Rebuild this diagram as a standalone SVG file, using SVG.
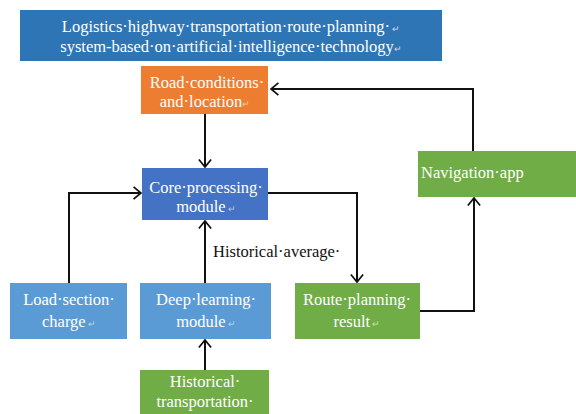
<svg xmlns="http://www.w3.org/2000/svg" width="576" height="414" viewBox="0 0 576 414">
<defs>
<marker id="ah" viewBox="0 0 10 16" refX="9.5" refY="8" markerWidth="9" markerHeight="14" markerUnits="userSpaceOnUse" orient="auto">
<path d="M1,1 L9.5,8 L1,15" fill="none" stroke="#111" stroke-width="2"/>
</marker>
</defs>
<rect width="576" height="414" fill="#fff"/>
<g id="connectors" fill="none" stroke="#111" stroke-width="2">
<path d="M205,114 V167" marker-end="url(#ah)"/>
<path d="M268,193 H357 V282" marker-end="url(#ah)"/>
<path d="M420,311 H474 V198" marker-end="url(#ah)"/>
<path d="M473,151 V89 H271" marker-end="url(#ah)"/>
<path d="M69,283 V193 H141" marker-end="url(#ah)"/>
<path d="M205,283 V221" marker-end="url(#ah)"/>
<path d="M205,370 V340" marker-end="url(#ah)"/>
</g>
<text font-family="Liberation Serif" font-size="16.5" x="213" y="257" fill="#111">Historical·average·</text>
<g id="title" fill="#fff" text-anchor="middle">
<rect x="20" y="10" width="422" height="51" fill="#2E75B6"/>
<text font-family="Liberation Serif" font-size="16.5" x="231" y="32">Logistics·highway·transportation·route·planning·<tspan fill="#cfd8e8" font-size="9"> ↵</tspan></text>
<text font-family="Liberation Serif" font-size="16.5" x="231" y="52">system-based·on·artificial·intelligence·technology<tspan fill="#cfd8e8" font-size="9">↵</tspan></text>
</g>
<g id="road" fill="#fff" text-anchor="middle">
<rect x="141" y="66" width="127" height="48" fill="#ED7D31"/>
<text font-family="Liberation Serif" font-size="16.5" x="207" y="88">Road·conditions·</text>
<text font-family="Liberation Serif" font-size="16.5" x="205" y="107">and·location<tspan fill="#f5c8a8" font-size="9">↵</tspan></text>
</g>
<g id="core" fill="#fff" text-anchor="middle">
<rect x="142" y="168" width="126" height="52" fill="#4472C4"/>
<text font-family="Liberation Serif" font-size="16.5" x="206" y="193">Core·processing·</text>
<text font-family="Liberation Serif" font-size="16.5" x="206" y="212">module<tspan fill="#b8c8e8" font-size="9"> ↵</tspan></text>
</g>
<g id="navigation" fill="#fff">
<rect x="418" y="151" width="160" height="46" fill="#70AD47"/>
<text font-family="Liberation Serif" font-size="16.5" x="421" y="178">Navigation·app</text>
</g>
<g id="load" fill="#fff" text-anchor="middle">
<rect x="10" y="283" width="117" height="56" fill="#5B9BD5"/>
<text font-family="Liberation Serif" font-size="16.5" x="69" y="305">Load·section·</text>
<text font-family="Liberation Serif" font-size="16.5" x="69" y="327">charge<tspan fill="#b8d4ee" font-size="9"> ↵</tspan></text>
</g>
<g id="deep" fill="#fff" text-anchor="middle">
<rect x="140" y="283" width="131" height="56" fill="#5B9BD5"/>
<text font-family="Liberation Serif" font-size="16.5" x="206" y="305">Deep·learning·</text>
<text font-family="Liberation Serif" font-size="16.5" x="206" y="327">module<tspan fill="#b8d4ee" font-size="9"> ↵</tspan></text>
</g>
<g id="route" fill="#fff" text-anchor="middle">
<rect x="295" y="283" width="125" height="56" fill="#70AD47"/>
<text font-family="Liberation Serif" font-size="16.5" x="357" y="305">Route·planning·</text>
<text font-family="Liberation Serif" font-size="16.5" x="357" y="327">result<tspan fill="#c4e0b0" font-size="9"> ↵</tspan></text>
</g>
<g id="historical" fill="#fff" text-anchor="middle">
<rect x="140" y="370" width="129" height="50" fill="#70AD47"/>
<text font-family="Liberation Serif" font-size="16.5" x="205" y="387">Historical·</text>
<text font-family="Liberation Serif" font-size="16.5" x="205" y="407">transportation·</text>
</g>
</svg>
